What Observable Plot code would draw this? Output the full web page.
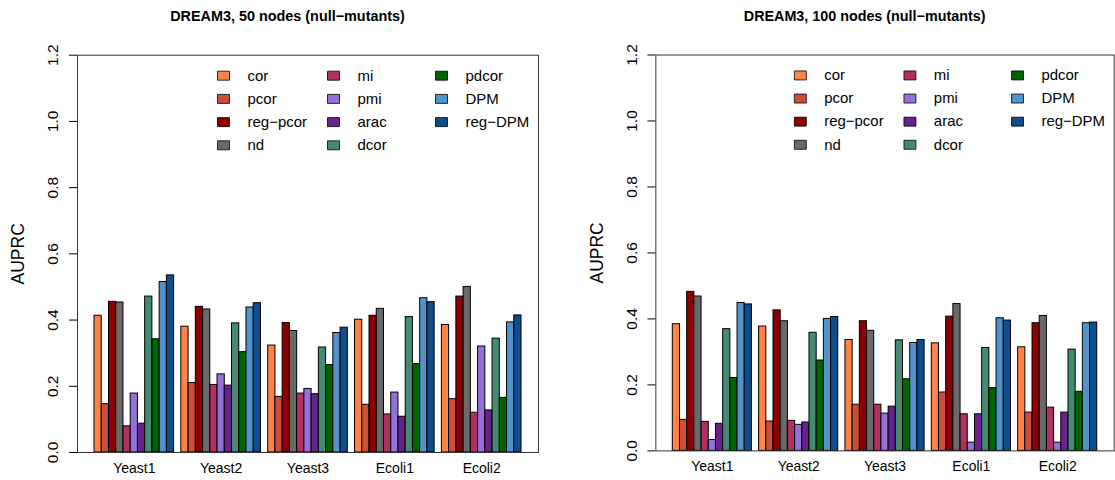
<!DOCTYPE html>
<html>
<head>
<meta charset="utf-8">
<script src="https://cdn.jsdelivr.net/npm/d3@7"></script>
<script src="https://cdn.jsdelivr.net/npm/@observablehq/plot@0.6"></script>
<style>
  html, body { margin: 0; padding: 0; background: #fff; overflow: hidden; }
  #wrap { position: relative; width: 1115px; height: 480px; overflow: hidden; }
  #p1, #p2 { position: absolute; top: 0; }
  #p1 { left: 0; }
  #p2 { left: 557px; }
  svg { font-family: "Liberation Sans", Arial, Helvetica, sans-serif; }
</style>
</head>
<body>
<div id="wrap"><div id="p1"></div><div id="p2"></div></div>
<script>
// ---- data ----
const groups = ["Yeast1", "Yeast2", "Yeast3", "Ecoli1", "Ecoli2"];
const methods = ["cor", "pcor", "reg\u2212pcor", "nd", "mi", "pmi", "arac", "dcor", "pdcor", "DPM", "reg\u2212DPM"];
const methodColors = ["#FF8247", "#CD4F39", "#8B0000", "#696969", "#B03060", "#9370DB", "#68228B", "#458B74", "#006400", "#4F94CD", "#104E8B"];
const yTicks = [0, 0.2, 0.4, 0.6, 0.8, 1.0, 1.2];
const titles = ["DREAM3, 50 nodes (null\u2212mutants)", "DREAM3, 100 nodes (null\u2212mutants)"];
const yLabel = "AUPRC";

// 50 nodes: values per group in method order
const n50_Yeast1 = [0.413, 0.146, 0.455, 0.453, 0.079, 0.178, 0.087, 0.471, 0.342, 0.515, 0.535];
const n50_Yeast2 = [0.380, 0.210, 0.440, 0.432, 0.204, 0.236, 0.202, 0.390, 0.303, 0.438, 0.451];
const n50_Yeast3 = [0.323, 0.168, 0.391, 0.367, 0.178, 0.192, 0.176, 0.317, 0.264, 0.361, 0.377];
const n50_Ecoli1 = [0.401, 0.144, 0.413, 0.434, 0.115, 0.181, 0.108, 0.409, 0.267, 0.466, 0.454];
const n50_Ecoli2 = [0.385, 0.161, 0.471, 0.500, 0.120, 0.320, 0.127, 0.344, 0.165, 0.393, 0.414];

// 100 nodes
const n100_Yeast1 = [0.384, 0.094, 0.482, 0.468, 0.088, 0.033, 0.082, 0.369, 0.221, 0.448, 0.444];
const n100_Yeast2 = [0.377, 0.089, 0.426, 0.393, 0.091, 0.079, 0.086, 0.358, 0.274, 0.400, 0.406];
const n100_Yeast3 = [0.336, 0.140, 0.393, 0.364, 0.140, 0.113, 0.134, 0.335, 0.217, 0.327, 0.336];
const n100_Ecoli1 = [0.326, 0.177, 0.407, 0.445, 0.111, 0.025, 0.111, 0.312, 0.190, 0.402, 0.395];
const n100_Ecoli2 = [0.314, 0.116, 0.387, 0.409, 0.131, 0.025, 0.116, 0.307, 0.179, 0.387, 0.389];

const panels = [
  [n50_Yeast1, n50_Yeast2, n50_Yeast3, n50_Ecoli1, n50_Ecoli2],
  [n100_Yeast1, n100_Yeast2, n100_Yeast3, n100_Ecoli1, n100_Ecoli2]
];

// x domain: 11 bars per group, one empty slot between groups
const xDomain = [];
groups.forEach((g, gi) => {
  methods.forEach(m => xDomain.push(g + "|" + m));
  if (gi < groups.length - 1) xDomain.push("gap" + gi);
});

// custom rectangular legend swatch
const swatch = { draw(ctx) { ctx.rect(-6, -4.5, 12, 9); } };

const legendColX = [-315, -205, -97];
const legendRowY = 20.5;
const legendRowStep = 23.2;

function makePanel(values, title, opts) {
  const rows = [];
  groups.forEach((g, gi) => methods.forEach((m, mi) => rows.push({key: g + "|" + m, group: g, method: m, value: values[gi][mi]})));
  const legendMarks = methods.flatMap((m, i) => {
    const col = Math.floor(i / 4), row = i % 4;
    const dx = legendColX[col], dy = legendRowY + row * legendRowStep;
    return [
      Plot.dot([m], {frameAnchor: "top-right", dx, dy, symbol: swatch, fill: d => d, stroke: "black", strokeWidth: 0.8}),
      Plot.text([m], {frameAnchor: "top-right", dx: dx + 24, dy, text: d => d, textAnchor: "start", lineAnchor: "middle", fontSize: 15, fill: "black"})
    ];
  });
  return Plot.plot({
    width: opts.width, height: 480,
    marginLeft: opts.marginLeft, marginRight: opts.marginRight, marginTop: 54.7, marginBottom: 28,
    style: {fontFamily: "'Liberation Sans', Arial, Helvetica, sans-serif", background: "white", overflow: "visible"},
    x: {type: "band", domain: xDomain, padding: 0, round: false, insetLeft: 17, insetRight: 17, axis: null},
    y: {domain: [0, 1.2], axis: null},
    color: {domain: methods, range: methodColors},
    marks: [
      Plot.barY(rows, {x: "key", y: "value", fill: "method", stroke: "black", strokeWidth: 1, inset: 0}),
      Plot.frame({stroke: "#333", strokeWidth: 1}),
      Plot.axisY({ticks: yTicks, tickSize: 8, tickFormat: () => "", label: null, stroke: "black"}),
      Plot.text(yTicks, {y: d => d, text: d => d.toFixed(1), frameAnchor: "left", textAnchor: "middle", lineAnchor: "middle", dx: -24, rotate: -90, fontSize: 15.5, fill: "black"}),
      Plot.text(groups, {x: g => g + "|pmi", text: d => d, frameAnchor: "bottom", lineAnchor: "middle", dy: 16, fontSize: 14, fill: "black"}),
      Plot.text([yLabel], {frameAnchor: "left", textAnchor: "middle", lineAnchor: "middle", dx: -59, rotate: -90, fontSize: 17.5, fill: "black"}),
      Plot.text([title], {frameAnchor: "top", textAnchor: "middle", lineAnchor: "middle", dy: -39, dx: opts.titleDx, fontSize: 14.4, fontWeight: "bold", fill: "black"}),
      ...legendMarks
    ]
  });
}

document.getElementById("p1").append(makePanel(panels[0], titles[0], {width: 557, marginLeft: 77, marginRight: 19, titleDx: -20.5}));
document.getElementById("p2").append(makePanel(panels[1], titles[1], {width: 560, marginLeft: 98.7, marginRight: 1.3, titleDx: -20.5}));
</script>
</body>
</html>
